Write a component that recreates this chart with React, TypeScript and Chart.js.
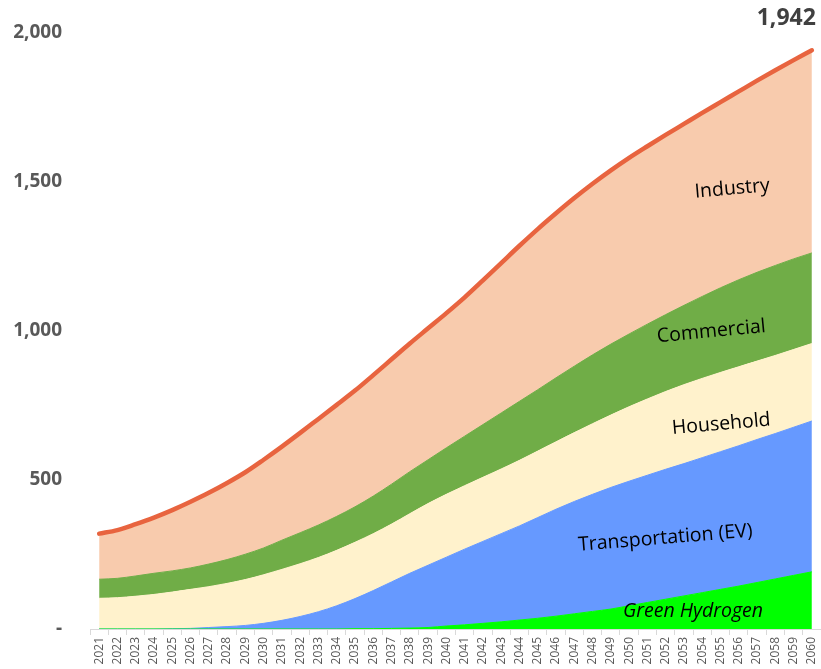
import { useEffect, useRef } from 'react';
import { Chart, registerables } from 'chart.js';

Chart.register(...registerables);

const years = [
  '2021', '2022', '2023', '2024', '2025', '2026', '2027', '2028', '2029', '2030',
  '2031', '2032', '2033', '2034', '2035', '2036', '2037', '2038', '2039', '2040',
  '2041', '2042', '2043', '2044', '2045', '2046', '2047', '2048', '2049', '2050',
  '2051', '2052', '2053', '2054', '2055', '2056', '2057', '2058', '2059', '2060',
];

const greenHydrogen = [
  0, 0, 0, 0, 0, 0, 0, 0, 0, 0,
  0, 0, 0, 0, 1, 1, 2, 3, 5, 10,
  14, 19, 24, 30, 36, 43, 51, 59, 67, 78,
  89, 100, 111, 122, 133, 144, 156, 168, 180, 192,
];

const transportation = [
  0, 0, 0, 0, 1, 2, 5, 8, 12, 19,
  29, 42, 58, 78, 101, 128, 156, 184, 209, 231,
  254, 275, 296, 316, 338, 359, 377, 393, 408, 418,
  427, 436, 444, 453, 462, 471, 480, 488, 497, 506,
];

const household = [
  103, 105, 110, 116, 123, 131, 137, 145, 154, 163,
  171, 177, 182, 186, 189, 191, 194, 200, 207, 211,
  213, 215, 217, 220, 223, 226, 231, 237, 243, 250,
  256, 261, 265, 266, 266, 265, 263, 262, 261, 260,
];

const commercial = [
  64, 65, 68, 71, 71, 72, 76, 80, 85, 90,
  98, 104, 109, 114, 119, 126, 134, 141, 147, 156,
  166, 177, 188, 198, 206, 215, 223, 231, 238, 244,
  251, 258, 266, 275, 284, 292, 298, 302, 304, 304,
];

const industry = [
  153, 162, 174, 187, 204, 222, 239, 257, 275, 296,
  314, 335, 356, 374, 390, 406, 419, 430, 441, 452,
  466, 484, 503, 522, 539, 552, 564, 574, 583, 591,
  597, 603, 609, 616, 623, 632, 643, 655, 667, 680,
];

const seriesNames = ['Green Hydrogen', 'Transportation (EV)', 'Household', 'Commercial', 'Industry'];
const seriesColors = ['#00FF00', '#6699FF', '#FFF2CC', '#70AD47', '#F8CBAD'];

const yTicks = [0, 500, 1000, 1500, 2000];

// annotation anchors (category position, value, angle in degrees)
const labelTexts = ['Industry', 'Commercial', 'Household', 'Transportation (EV)', 'Green Hydrogen'];
const labelCategory = [34.64, 33.5, 34.04, 30.98, 32.5];
const labelValue = [1477, 998, 687, 305, 60];
const labelAngle = [-5, -5.5, -5, -4.7, 0];
const labelItalic = [false, false, false, false, true];

export default function App() {
  const ref = useRef<HTMLCanvasElement>(null);

  useEffect(() => {
    document.body.style.margin = '0';
    const series = [greenHydrogen, transportation, household, commercial, industry];
    const totals = years.map((_, i) => series.reduce((s, arr) => s + arr[i], 0));

    const labelPlugin = {
      id: 'areaLabels',
      afterDatasetsDraw(chart: any) {
        const { ctx, scales } = chart;
        const xs = scales.x;
        const ys = scales.y;
        ctx.save();
        ctx.fillStyle = '#000000';
        ctx.textAlign = 'center';
        ctx.textBaseline = 'middle';
        labelTexts.forEach((t, i) => {
          const px = xs.getPixelForValue(labelCategory[i]);
          const py = ys.getPixelForValue(labelValue[i]);
          ctx.save();
          ctx.translate(px, py);
          ctx.rotate((labelAngle[i] * Math.PI) / 180);
          ctx.font = `${labelItalic[i] ? 'italic ' : ''}19.5px "Open Sans"`;
          ctx.fillText(t, 0, 0);
          ctx.restore();
        });
        const last = totals.length - 1;
        const lx = xs.getPixelForValue(last);
        const ly = ys.getPixelForValue(totals[last]);
        ctx.font = 'bold 23px "Open Sans"';
        ctx.fillStyle = '#404040';
        ctx.textAlign = 'right';
        ctx.fillText(totals[last].toLocaleString('en-US'), lx + 4, ly - 32);
        ctx.restore();
      },
    };

    const areaDatasets = series.map((data, i) => ({
      label: seriesNames[i],
      data,
      stack: 'areas',
      fill: i === 0 ? 'origin' : '-1',
      backgroundColor: seriesColors[i],
      borderColor: seriesColors[i],
      borderWidth: 1,
      pointRadius: 0,
      cubicInterpolationMode: 'monotone' as const,
    }));

    const chart = new Chart(ref.current!, {
      type: 'line',
      data: {
        labels: years,
        datasets: [
          {
            label: 'Total',
            data: totals,
            stack: 'total',
            fill: false,
            borderColor: '#E8643F',
            borderWidth: 4.5,
            borderCapStyle: 'round',
            pointRadius: 0,
            cubicInterpolationMode: 'monotone',
          } as any,
          ...areaDatasets,
        ],
      },
      options: {
        responsive: false,
        animation: false,
        layout: { padding: { top: 33, right: 0, bottom: 0, left: 0 } },
        plugins: { legend: { display: false }, tooltip: { enabled: false } },
        scales: {
          x: {
            offset: true,
            grid: { display: true, drawOnChartArea: false, offset: true, tickLength: 6, color: '#d9d9d9' },
            border: { display: true, color: '#d9d9d9' },
            ticks: {
              autoSkip: false,
              maxRotation: 90,
              minRotation: 90,
              padding: 2,
              color: '#595959',
              font: { family: 'Open Sans', size: 12 },
            },
            afterFit: (s: any) => { s.height = 40; s.paddingLeft = 0; s.paddingRight = 0; },
          },
          y: {
            stacked: true,
            min: 0,
            max: 2000,
            afterBuildTicks: (s: any) => { s.ticks = yTicks.map((v) => ({ value: v })); },
            ticks: {
              padding: 28,
              color: '#595959',
              font: { family: 'Open Sans', size: 19, weight: 'bold' },
              callback: (v: any) => (Number(v) === 0 ? '-' : Number(v).toLocaleString('en-US')),
            },
            grid: { display: false, drawTicks: false },
            border: { display: false },
            afterFit: (s: any) => { s.width = 90; s.paddingTop = 0; s.paddingBottom = 0; },
          },
        },
      },
      plugins: [labelPlugin],
    });
    return () => chart.destroy();
  }, []);

  return (
    <div style={{ width: 821, height: 669 }}>
      <canvas ref={ref} width={821} height={669} style={{ display: 'block' }} />
    </div>
  );
}
